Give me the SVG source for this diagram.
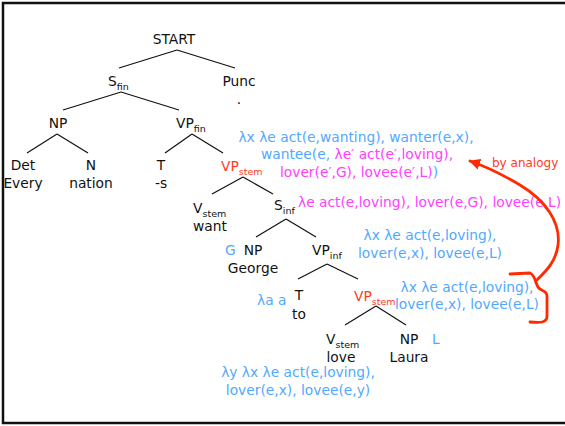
<svg xmlns="http://www.w3.org/2000/svg" width="565" height="426" viewBox="0 0 565 426">
  <defs>
    <style>
      text { font-family: "DejaVu Sans", "Liberation Sans", sans-serif; font-size: 13.8px; }
      .lbl { fill: #111; }
      .red { fill: #ff3b22; }
      .blue { fill: #52a8ff; }
      .pink { fill: #ff40ff; }
      .sub { font-size: 9.5px; }
      .edge { stroke: #111; stroke-width: 1.2; fill: none; }
      .frame { stroke: #111; stroke-width: 2.5; fill: none; }
      .mark { stroke: #ff2a00; stroke-width: 2.8; fill: none; stroke-linecap: round; stroke-linejoin: round; }
    </style>
    <marker id="arrowhead" viewBox="0 0 10 10" refX="9" refY="5" markerWidth="4" markerHeight="4" orient="auto" markerUnits="strokeWidth">
      <path d="M0,0 L10,5 L0,10 Z" fill="#ff2a00"/>
    </marker>
  </defs>

  <rect width="565" height="426" fill="#fff"/>
  <path class="frame" d="M567,3 H3 V423 H567"/>

  <!-- tree edges -->
  <g id="edges">
    <line class="edge" x1="177" y1="50" x2="119" y2="68"/>
    <line class="edge" x1="177" y1="50" x2="235" y2="68"/>
    <line class="edge" x1="121" y1="92" x2="63" y2="110"/>
    <line class="edge" x1="121" y1="92" x2="179" y2="110"/>
    <line class="edge" x1="57" y1="134" x2="27" y2="153"/>
    <line class="edge" x1="57" y1="134" x2="88" y2="153"/>
    <line class="edge" x1="192" y1="134" x2="165" y2="153"/>
    <line class="edge" x1="192" y1="134" x2="223" y2="153"/>
    <line class="edge" x1="243" y1="177" x2="212" y2="194"/>
    <line class="edge" x1="243" y1="177" x2="273" y2="194"/>
    <line class="edge" x1="286" y1="219" x2="256" y2="237"/>
    <line class="edge" x1="286" y1="219" x2="316" y2="237"/>
    <line class="edge" x1="327" y1="264" x2="298" y2="279"/>
    <line class="edge" x1="327" y1="264" x2="358" y2="279"/>
    <line class="edge" x1="376" y1="306" x2="345" y2="325"/>
    <line class="edge" x1="376" y1="306" x2="406" y2="325"/>
  </g>

  <!-- tree nodes -->
  <g id="start"><text class="lbl" x="174" y="44" text-anchor="middle">START</text></g>
  <g id="s-fin"><text class="lbl" x="108" y="86">S<tspan class="sub" dy="4">fin</tspan></text></g>
  <g id="punc">
    <text class="lbl" x="239" y="86" text-anchor="middle">Punc</text>
    <text class="lbl" x="239" y="104" text-anchor="middle">.</text>
  </g>
  <g id="np-subj"><text class="lbl" x="58" y="128" text-anchor="middle">NP</text></g>
  <g id="vp-fin"><text class="lbl" x="176" y="128">VP<tspan class="sub" dy="4">fin</tspan></text></g>
  <g id="det">
    <text class="lbl" x="23" y="170" text-anchor="middle">Det</text>
    <text class="lbl" x="23" y="188" text-anchor="middle">Every</text>
  </g>
  <g id="n">
    <text class="lbl" x="91" y="170" text-anchor="middle">N</text>
    <text class="lbl" x="91" y="188" text-anchor="middle">nation</text>
  </g>
  <g id="t-s">
    <text class="lbl" x="161" y="170" text-anchor="middle">T</text>
    <text class="lbl" x="161" y="188" text-anchor="middle">-s</text>
  </g>
  <g id="vp-stem-want"><text class="red" x="221" y="171">VP<tspan class="sub" dy="4">stem</tspan></text></g>
  <g id="v-want">
    <text class="lbl" x="193" y="213">V<tspan class="sub" dy="4">stem</tspan></text>
    <text class="lbl" x="210" y="231" text-anchor="middle">want</text>
  </g>
  <g id="s-inf"><text class="lbl" x="274" y="210">S<tspan class="sub" dy="4">inf</tspan></text></g>
  <g id="np-george">
    <text class="blue" x="225" y="255">G</text>
    <text class="lbl" x="253" y="255" text-anchor="middle">NP</text>
    <text class="lbl" x="253" y="273" text-anchor="middle">George</text>
  </g>
  <g id="vp-inf"><text class="lbl" x="312" y="255">VP<tspan class="sub" dy="4">inf</tspan></text></g>
  <g id="t-to">
    <text class="blue" x="257" y="305">λa a</text>
    <text class="lbl" x="299" y="300" text-anchor="middle">T</text>
    <text class="lbl" x="299" y="319" text-anchor="middle">to</text>
  </g>
  <g id="vp-stem-love"><text class="red" x="354" y="301">VP<tspan class="sub" dy="4">stem</tspan></text></g>
  <g id="v-love">
    <text class="lbl" x="326" y="344">V<tspan class="sub" dy="4">stem</tspan></text>
    <text class="lbl" x="341" y="362" text-anchor="middle">love</text>
  </g>
  <g id="np-laura">
    <text class="lbl" x="409" y="344" text-anchor="middle">NP</text>
    <text class="lbl" x="409" y="362" text-anchor="middle">Laura</text>
    <text class="blue" x="432" y="344">L</text>
  </g>

  <!-- semantic annotations -->
  <g id="sem-want" text-anchor="middle">
    <text class="blue" x="356" y="142">λx λe act(e,wanting), wanter(e,x),</text>
    <text class="blue" x="357" y="159">wantee(e, <tspan class="pink">λe′ act(e′,loving),</tspan></text>
    <text class="pink" x="359" y="177">lover(e′,G), lovee(e′,L)<tspan class="blue">)</tspan></text>
  </g>
  <g id="sem-sinf"><text class="pink" x="298" y="207">λe act(e,loving), lover(e,G), lovee(e,L)</text></g>
  <g id="sem-vpinf" text-anchor="middle">
    <text class="blue" x="430" y="240">λx λe act(e,loving),</text>
    <text class="blue" x="430" y="258">lover(e,x), lovee(e,L)</text>
  </g>
  <g id="sem-vpstem" text-anchor="middle">
    <text class="blue" x="467" y="292">λx λe act(e,loving),</text>
    <text class="blue" x="467" y="309">lover(e,x), lovee(e,L)</text>
  </g>
  <g id="sem-love" text-anchor="middle">
    <text class="blue" x="298" y="377">λy λx λe act(e,loving),</text>
    <text class="blue" x="298" y="395">lover(e,x), lovee(e,y)</text>
  </g>

  <!-- analogy arrow -->
  <g id="analogy">
    <path class="mark" d="M510,274 L530,273 C535,275 535,282 538,287 C540,291 547,290 547,296 L547,316 C547,323 540,323 530,322"/>
    <path class="mark" d="M537,280 C545,272 556,262 558,245 C561,222 545,200 520,185 C505,176 490,168 470,161" marker-end="url(#arrowhead)"/>
    <text class="red" x="492" y="167" style="font-size:12px">by analogy</text>
  </g>
</svg>
